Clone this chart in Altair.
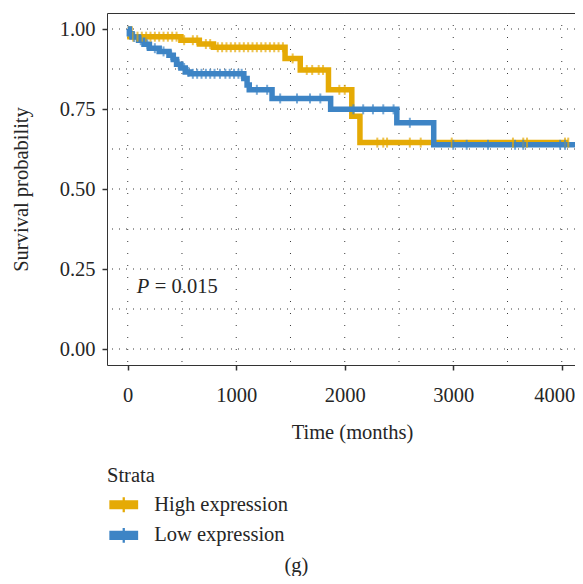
import altair as alt
import numpy as np
import pandas as pd

FONT = "Liberation Serif"
FS = 20.5
TXT = "#262626"
GOLD = "#E5AA05"
BLUE = "#3D84C5"

groups = ["High expression", "Low expression"]

# Kaplan-Meier step curves (time in months, survival probability)
high_t = [0, 20, 490, 660, 790, 1450, 1590, 1850, 2065, 2140, 4060]
high_s = [1.0, 0.976, 0.965, 0.953, 0.943, 0.908, 0.872, 0.81, 0.727, 0.645, 0.645]
low_t = [0, 15, 40, 100, 150, 200, 290, 380, 420, 450, 490, 530, 575, 1070, 1100, 1120, 1330, 1870, 2480, 2820, 4300]
low_s = [1.0, 0.985, 0.975, 0.965, 0.952, 0.94, 0.93, 0.918, 0.905, 0.89, 0.878, 0.866, 0.86, 0.845, 0.825, 0.81, 0.783, 0.749, 0.707, 0.638, 0.638]

# censoring times
high_c = [50, 90, 130, 170, 210, 250, 290, 330, 370, 410, 450, 520, 600, 640, 720, 760, 830, 870, 910, 950,
          990, 1030, 1070, 1110, 1150, 1190, 1230, 1270, 1310, 1350, 1390, 1430, 1520, 1650, 1700, 1760, 1800,
          1950, 2000, 2300, 2355, 2390, 2600, 2700, 2986, 3550, 3645, 3680, 4030, 4060]
low_c = [25, 60, 120, 180, 250, 330, 400, 470, 520, 560, 600, 640, 680, 720, 760, 800, 850, 900, 940, 980,
         1020, 1050, 1190, 1285, 1405, 1560, 1680, 1775, 2080, 2170, 2260, 2355, 2450, 2600, 3000, 3124, 3320,
         3570, 3645, 3985, 4030, 4140]

x_ticks = [0, 1000, 2000, 3000, 4000]
y_ticks = [0.0, 0.25, 0.5, 0.75, 1.0]
x_grid = [0, 500, 1000, 1500, 2000, 2500, 3000, 3500, 4000]
y_grid = [0.0, 0.125, 0.25, 0.375, 0.5, 0.625, 0.75, 0.875, 1.0]

p_label = "= 0.015"
caption = "(g)"


def step_value(ts, ss, c):
    idx = np.searchsorted(np.array(ts), np.array(c), side="right") - 1
    return list(np.array(ss)[idx])


high_df = pd.DataFrame({"time": high_t, "surv": high_s})
low_df = pd.DataFrame({"time": low_t, "surv": low_s})
censors = pd.concat([
    pd.DataFrame({"time": high_c, "surv": step_value(high_t, high_s, high_c), "Strata": groups[0]}),
    pd.DataFrame({"time": low_c, "surv": step_value(low_t, low_s, low_c), "Strata": groups[1]}),
])

xs = alt.Scale(domain=[-191, 4122], nice=False, zero=False)
ys = alt.Scale(domain=[-0.05, 1.05], nice=False, zero=False)
cs = alt.Scale(domain=groups, range=[GOLD, BLUE])

grid_h = alt.Chart(pd.DataFrame({"g": y_grid})).mark_rule(
    color="#3a3a3a", strokeWidth=1, strokeDash=[1, 6]).encode(y=alt.Y("g:Q", scale=ys))
grid_v = alt.Chart(pd.DataFrame({"g": x_grid})).mark_rule(
    color="#3a3a3a", strokeWidth=1, strokeDash=[1, 11]).encode(x=alt.X("g:Q", scale=xs))

xaxis = alt.Axis(values=x_ticks, format="d", title="Time (months)", grid=False, domain=False,
                 tickSize=5, tickWidth=1.5, tickColor="#333", labelPadding=15,
                 labelFlush=14, labelFlushOffset=13,
                 titleX=245, titleY=73, titleBaseline="alphabetic")
yaxis = alt.Axis(values=y_ticks, format=".2f", title="Survival probability", grid=False, domain=False,
                 tickSize=5, tickWidth=1.5, tickColor="#333", labelPadding=7,
                 titleX=-86, titleY=176, titleAngle=270, titleBaseline="middle", titleAlign="center")


def curve(df, col):
    return alt.Chart(df).mark_line(interpolate="step-after", strokeWidth=5.5, clip=True, color=col).encode(
        x=alt.X("time:Q", scale=xs, axis=xaxis),
        y=alt.Y("surv:Q", scale=ys, axis=yaxis),
    )


legend_path = "M-2.4,-0.77H2.4V0.77H-2.4Z M-0.19,-1.23H0.19V1.23H-0.19Z"

ticks = alt.Chart(censors).mark_tick(orient="vertical", size=10, thickness=2, clip=True).encode(
    x=alt.X("time:Q", scale=xs),
    y=alt.Y("surv:Q", scale=ys),
    color=alt.Color("Strata:N", scale=cs, legend=alt.Legend(
        title="Strata", orient="none", legendX=0, legendY=453, symbolType=legend_path,
        symbolSize=144, symbolStrokeWidth=0, symbolOffset=6.5, labelOffset=20.2, rowPadding=9.6,
        titlePadding=8, labelFont=FONT, labelFontSize=FS, labelColor=TXT, titleFont=FONT,
        titleFontSize=FS, titleFontWeight="normal", titleColor=TXT, symbolOpacity=1)),
)

ptxt = alt.Chart(pd.DataFrame({"x": [83], "y": [0.176], "t": ["P"]})).mark_text(
    font=FONT, fontSize=FS, fontStyle="italic", align="left", baseline="alphabetic", color=TXT
).encode(x=alt.X("x:Q", scale=xs), y=alt.Y("y:Q", scale=ys), text="t:N")
ptxt2 = alt.Chart(pd.DataFrame({"x": [250], "y": [0.176], "t": [p_label]})).mark_text(
    font=FONT, fontSize=FS, align="left", baseline="alphabetic", color=TXT
).encode(x=alt.X("x:Q", scale=xs), y=alt.Y("y:Q", scale=ys), text="t:N")

cap = alt.Chart(pd.DataFrame({"t": [caption]})).mark_text(
    font=FONT, fontSize=FS, align="center", baseline="alphabetic", color=TXT
).encode(x=alt.value(189.5), y=alt.value(559), text="t:N")

chart = alt.layer(grid_h, grid_v, curve(high_df, GOLD), curve(low_df, BLUE), ticks, ptxt, ptxt2, cap).properties(
    width=468, height=352,
    autosize=alt.AutoSizeParams(type="none"),
    padding={"left": 99, "top": 5, "right": 0, "bottom": 211},
).configure_view(stroke="#333", strokeWidth=1).configure_axis(
    labelFont=FONT, labelFontSize=FS, labelColor=TXT, titleFont=FONT, titleFontSize=FS,
    titleFontWeight="normal", titleColor=TXT
)

chart.save("out.html", embed_options={"renderer": "svg", "actions": False})
